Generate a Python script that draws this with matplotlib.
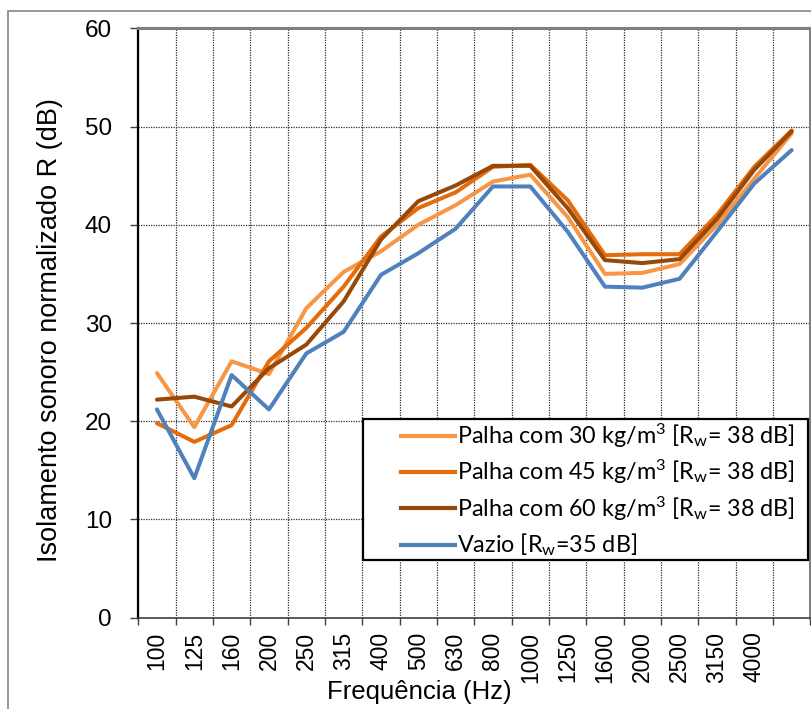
import numpy as np
import matplotlib.pyplot as plt
from matplotlib.patches import Rectangle
from matplotlib.lines import Line2D

# Third-octave bands and measured sound reduction index (dB)
freqs = ["100", "125", "160", "200", "250", "315", "400", "500", "630", "800",
         "1000", "1250", "1600", "2000", "2500", "3150", "4000", "5000"]
tick_labels = freqs[:-1] + [""]

palha_30 = [24.9, 19.4, 26.1, 24.8, 31.5, 35.2, 37.3, 40.0, 42.0, 44.4,
            45.1, 40.8, 35.0, 35.1, 36.0, 40.0, 44.7, 49.3]
palha_45 = [19.8, 17.9, 19.6, 26.1, 29.5, 33.7, 38.8, 41.7, 43.3, 45.9,
            46.1, 42.5, 36.9, 37.0, 37.0, 41.0, 45.9, 49.6]
palha_60 = [22.2, 22.5, 21.5, 25.4, 27.8, 32.2, 38.5, 42.4, 44.0, 46.0,
            46.0, 41.7, 36.4, 36.1, 36.5, 40.6, 45.6, 49.5]
vazio = [21.2, 14.2, 24.7, 21.2, 26.9, 29.1, 34.9, 37.1, 39.6, 43.9,
         43.9, 39.3, 33.7, 33.6, 34.5, 39.3, 44.2, 47.6]

labels = [r"Palha com 30 kg/m$^{3}$ [R$_{w}$= 38 dB]",
          r"Palha com 45 kg/m$^{3}$ [R$_{w}$= 38 dB]",
          r"Palha com 60 kg/m$^{3}$ [R$_{w}$= 38 dB]",
          r"Vazio [R$_{w}$=35 dB]"]
colors = ["#F79646", "#E46C0A", "#984807", "#4F81BD"]

plt.rcParams["font.family"] = ["Liberation Sans", "DejaVu Sans"]
plt.rcParams["mathtext.default"] = "regular"

W, H = 811, 709
fig = plt.figure(figsize=(W / 100, H / 100), dpi=100)


def fx(px):
    return px / W


def fy(py):
    return 1 - py / H


# outer chart border (cut off on the right and bottom)
fig.patches.append(Rectangle((fx(8), -0.1), 1.2, fy(11) + 0.1, transform=fig.transFigure,
                             fill=False, edgecolor="#868686", lw=1.2))

left, right, top, bottom = 138.3, 810.3, 28.3, 617.7
ax = fig.add_axes([fx(left), fy(bottom), (right - left) / W, (bottom - top) / H])

x = np.arange(len(freqs))
for series, c in zip([palha_30, palha_45, palha_60, vazio], colors):
    ax.plot(x, series, color=c, lw=2.9, solid_capstyle="round")

ax.set_xlim(-0.5, len(freqs) - 0.5)
ax.set_ylim(0, 60)
ax.set_yticks(range(0, 61, 10))
ax.set_xticks(np.arange(len(freqs) + 1) - 0.5)
ax.set_xticklabels([])
ax.set_xticks(x, minor=True)
ax.set_xticklabels(tick_labels, minor=True, rotation=90, fontsize=16.5)
ax.tick_params(axis="x", which="minor", length=0, pad=10)
ax.tick_params(axis="x", which="major", length=5, width=1, color="#404040")
ax.tick_params(axis="y", length=6, width=1, color="#404040", labelsize=17.5, pad=13)

ax.grid(True, which="major", color="#303030", ls=(0, (1, 1)), lw=0.9)

ax.spines["left"].set_color("black")
ax.spines["left"].set_linewidth(1.6)
ax.spines["bottom"].set_color("#404040")
ax.spines["bottom"].set_linewidth(1.2)
for s in ["top", "right"]:
    ax.spines[s].set_color("#808080")
    ax.spines[s].set_linewidth(2.2)

fig.text(fx(50), fy(330), "Isolamento sonoro normalizado R (dB)", rotation=90,
         ha="center", va="center", fontsize=19.5)
fig.text(fx(419), fy(692), "Frequência (Hz)", ha="center", va="center", fontsize=18.5)

# legend box with line samples and labels
fig.patches.append(Rectangle((fx(363), fy(560)), (808 - 363) / W, (560 - 419) / H,
                             transform=fig.transFigure, facecolor="white",
                             edgecolor="black", lw=1.6, zorder=5))
for i, (lab, c) in enumerate(zip(labels, colors)):
    yy = fy(436 + 36.2 * i)
    fig.lines.append(Line2D([fx(401), fx(455)], [yy, yy], transform=fig.transFigure,
                            color=c, lw=3, zorder=6))
    fig.text(fx(457), yy, lab, ha="left", va="center", family="Lato",
             fontsize=16.8, zorder=6)

fig.savefig("out.png", dpi=100)
